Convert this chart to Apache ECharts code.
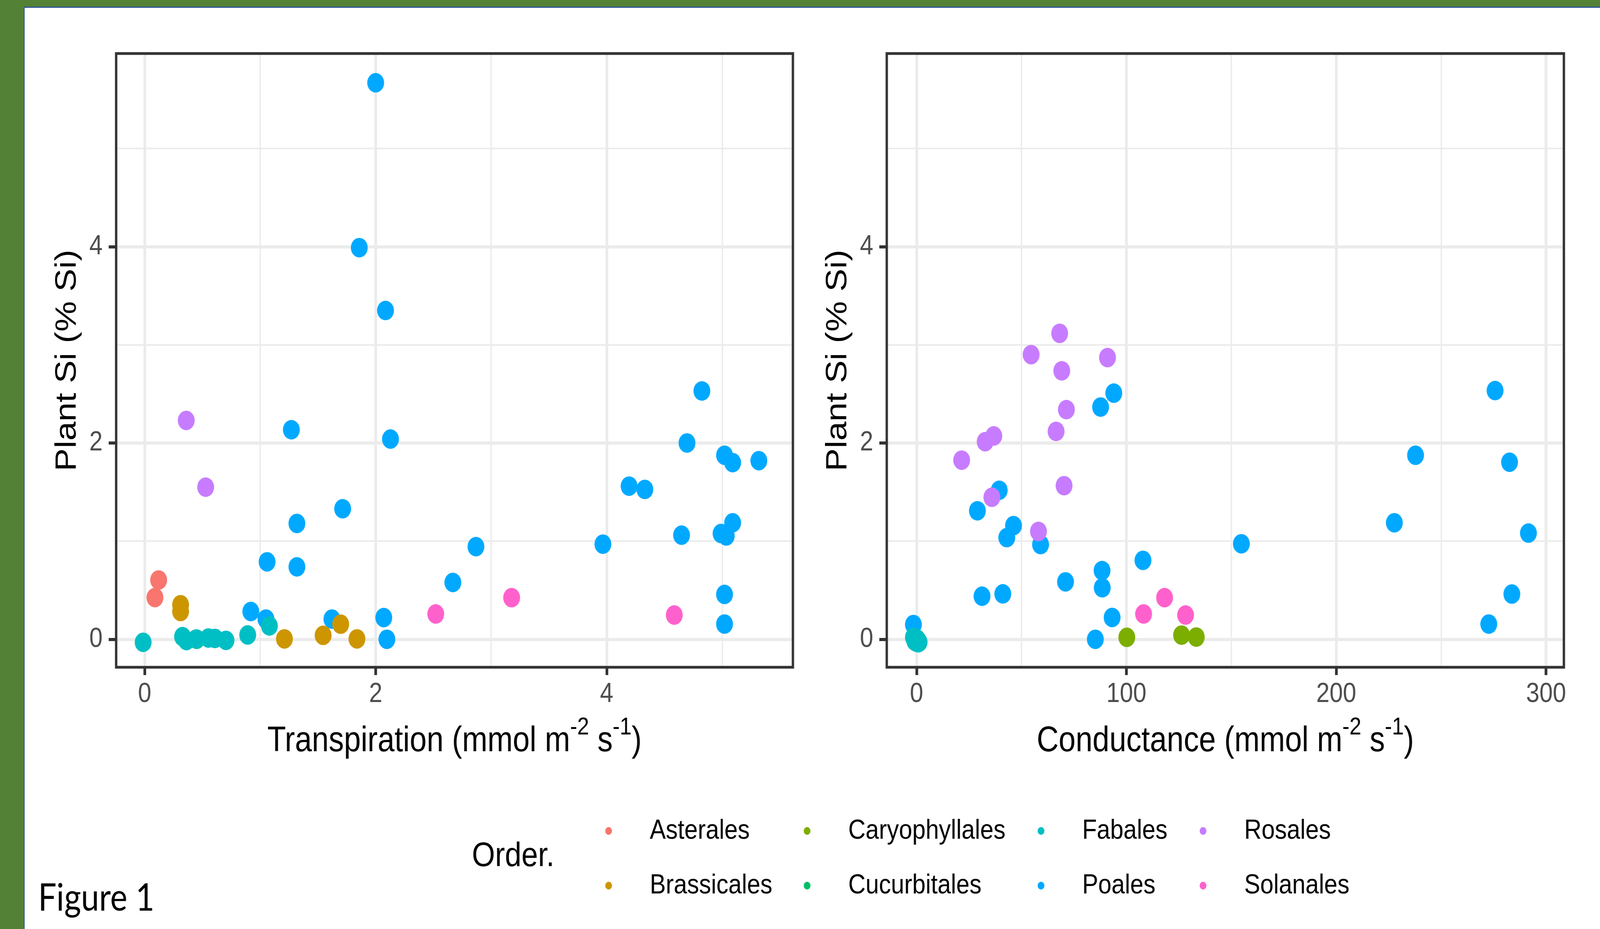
<!DOCTYPE html>
<html><head><meta charset="utf-8">
<script src="https://cdn.jsdelivr.net/npm/echarts@6/dist/echarts.min.js"></script>
<style>
html,body{margin:0;padding:0;background:#fff;overflow:hidden;width:100%;height:100%}
#wrap{position:fixed;left:0;top:0;width:100vw;height:100vh;overflow:hidden;background:#fff}
#c{position:absolute;left:0;top:0;width:4740px;height:2378px;transform-origin:0 0}
</style>
</head><body><div id="wrap"><div id="c"></div></div>
<script>
// ---------- data ----------
const orders = ['Asterales','Brassicales','Caryophyllales','Cucurbitales','Fabales','Poales','Rosales','Solanales'];
const orderColors = ['#F8766D','#CD9600','#7CAE00','#00BE67','#00BFC4','#00A9FF','#C77CFF','#FF61CC'];
const drawOrder = ['Poales','Asterales','Brassicales','Caryophyllales','Cucurbitales','Fabales','Rosales','Solanales'];

// Transpiration (mmol m-2 s-1) vs Plant Si (% Si)
const transPoales = [[2.00,5.67],[1.858,3.99],[2.085,3.35],[4.824,2.53],[1.27,2.135],[2.128,2.04],[4.695,2.00],[5.02,1.875],[5.09,1.80],[5.317,1.82],[4.194,1.56],[4.33,1.527],[1.714,1.33],[1.318,1.18],[5.09,1.187],[4.648,1.061],[4.99,1.078],[5.035,1.053],[3.967,0.969],[2.868,0.944],[1.06,0.789],[1.318,0.738],[2.668,0.579],[5.02,0.457],[0.919,0.283],[1.05,0.206],[1.621,0.206],[2.07,0.221],[5.02,0.155],[2.097,0.0]];
const transAsterales = [[0.121,0.604],[0.089,0.425]];
const transBrassicales = [[0.311,0.352],[0.311,0.283],[1.21,0.004],[1.545,0.04],[1.697,0.154],[1.838,0.004]];
const transCaryophyllales = [];
const transCucurbitales = [[0.45,0.0]];
const transFabales = [[-0.013,-0.031],[0.328,0.027],[0.362,-0.013],[0.447,0.003],[0.552,0.013],[0.608,0.009],[0.704,-0.011],[0.892,0.044],[1.08,0.136]];
const transRosales = [[0.36,2.23],[0.528,1.55]];
const transSolanales = [[2.52,0.258],[3.177,0.424],[4.585,0.247]];

// Conductance (mmol m-2 s-1) vs Plant Si (% Si)
const condPoales = [[94.0,2.508],[87.7,2.366],[275.7,2.534],[237.8,1.875],[282.6,1.804],[39.4,1.518],[29.0,1.309],[46.2,1.158],[227.7,1.187],[43.0,1.036],[59.1,0.965],[154.8,0.973],[291.6,1.082],[107.9,0.804],[88.4,0.70],[88.5,0.525],[71.0,0.585],[31.2,0.439],[41.1,0.463],[93.2,0.222],[283.7,0.461],[272.7,0.155],[-1.5,0.150],[85.2,0.0]];
const condAsterales = [];
const condBrassicales = [];
const condCaryophyllales = [[100.2,0.02],[126.3,0.0425],[133.3,0.0226]];
const condCucurbitales = [[0.3,0.0]];
const condFabales = [[-1.5,0.02],[-1.0,0.0],[-0.5,0.01],[0.0,-0.03],[0.5,-0.01],[0.8,-0.035],[1.0,-0.02],[1.2,-0.03],[-0.8,-0.02]];
const condRosales = [[68.2,3.117],[54.6,2.90],[91.0,2.87],[69.2,2.735],[71.4,2.34],[66.5,2.118],[36.8,2.072],[32.7,2.013],[21.5,1.825],[35.9,1.447],[70.3,1.565],[58.1,1.099]];
const condSolanales = [[108.2,0.258],[118.2,0.424],[128.2,0.247]];

const transData = {Poales:transPoales, Asterales:transAsterales, Brassicales:transBrassicales, Caryophyllales:transCaryophyllales, Cucurbitales:transCucurbitales, Fabales:transFabales, Rosales:transRosales, Solanales:transSolanales};
const condData = {Poales:condPoales, Asterales:condAsterales, Brassicales:condBrassicales, Caryophyllales:condCaryophyllales, Cucurbitales:condCucurbitales, Fabales:condFabales, Rosales:condRosales, Solanales:condSolanales};

// tick labels
const yTicks = [0, 2, 4];
const transTicks = [0, 2, 4];
const condTicks = [0, 100, 200, 300];

const yTitle = 'Plant Si (% Si)';
const transTitle = '{a|Transpiration (mmol m}{s|-2}{a| s}{s|-1}{a|)}';
const condTitle = '{a|Conductance (mmol m}{s|-2}{a| s}{s|-1}{a|)}';
const legendTitle = 'Order.';
const figLabel = 'Figure 1';
const legendColumns = [['Asterales','Brassicales'],['Caryophyllales','Cucurbitales'],['Fabales','Poales'],['Rosales','Solanales']];

// ---------- chart ----------
const el = document.getElementById('c');
const kx = window.innerWidth / 4740, ky = window.innerHeight / 2378;
el.style.transform = 'scale(' + kx + ',' + ky + ')';

const FF = '"Liberation Sans", Arial, sans-serif';
const chart = echarts.init(el, null, {renderer: 'canvas'});

const richTitle = {
  a: {fontSize: 90, lineHeight: 134, color: '#000', fontFamily: FF},
  s: {fontSize: 63, lineHeight: 63, verticalAlign: 'top', color: '#000', fontFamily: FF}
};

function xAxisCfg(gi, min, max, step, ticks, title) {
  return {
    type: 'value', gridIndex: gi, min: min, max: max, minInterval: step, maxInterval: step,
    axisLine: {show: false, onZero: false},
    axisTick: {show: true, length: 20, lineStyle: {color: '#333', width: 8}, customValues: ticks},
    axisLabel: {customValues: ticks, fontSize: 71, color: '#4d4d4d', margin: 34, fontFamily: FF},
    splitLine: {show: true, lineStyle: {color: '#ebebeb', width: 8}},
    minorTick: {show: false, splitNumber: 2},
    minorSplitLine: {show: true, lineStyle: {color: '#ebebeb', width: 4}},
    name: title, nameLocation: 'middle', nameGap: 123,
    nameTextStyle: {rich: richTitle, fontSize: 90, color: '#000', fontFamily: FF}
  };
}
function yAxisCfg(gi) {
  return {
    type: 'value', gridIndex: gi, min: -0.285, max: 5.968, minInterval: 2, maxInterval: 2,
    axisLine: {show: false, onZero: false},
    axisTick: {show: true, length: 22, lineStyle: {color: '#333', width: 8}, customValues: yTicks},
    axisLabel: {customValues: yTicks, fontSize: 71, color: '#4d4d4d', margin: 40, fontFamily: FF},
    splitLine: {show: true, lineStyle: {color: '#ebebeb', width: 8}},
    minorTick: {show: false, splitNumber: 2},
    minorSplitLine: {show: true, lineStyle: {color: '#ebebeb', width: 4}},
    name: yTitle, nameLocation: 'middle', nameGap: 100,
    nameTextStyle: {fontSize: 88, color: '#000', fontFamily: FF}
  };
}

const series = [];
[transData, condData].forEach(function (src, gi) {
  drawOrder.forEach(function (name) {
    series.push({
      type: 'scatter', name: name, xAxisIndex: gi, yAxisIndex: gi,
      data: src[name], symbol: 'circle', symbolSize: 50,
      itemStyle: {color: orderColors[orders.indexOf(name)], opacity: 1},
      emphasis: {disabled: true}, z: 2
    });
  });
});

const legendLefts = [1793, 2381, 3074, 3554];
const legends = legendColumns.map(function (col, i) {
  return {
    orient: 'vertical', left: legendLefts[i], top: 2087, padding: 0,
    itemWidth: 20, itemHeight: 20, itemGap: 60, icon: 'circle',
    data: col, selectedMode: false,
    textStyle: {fontSize: 71, color: '#000', fontFamily: FF, lineHeight: 80, padding: [0, 0, 0, 107]}
  };
});

chart.setOption({
  animation: false,
  backgroundColor: '#fff',
  grid: [
    {left: 344, top: 137, width: 2005, height: 1571, show: true, backgroundColor: 'transparent', borderColor: '#333', borderWidth: 7, z: 5, outerBoundsMode: 'none', containLabel: false},
    {left: 2627, top: 137, width: 2006, height: 1571, show: true, backgroundColor: 'transparent', borderColor: '#333', borderWidth: 7, z: 5, outerBoundsMode: 'none', containLabel: false}
  ],
  xAxis: [
    xAxisCfg(0, -0.247, 5.612, 2, transTicks, transTitle),
    xAxisCfg(1, -14.2, 308.5, 100, condTicks, condTitle)
  ],
  yAxis: [yAxisCfg(0), yAxisCfg(1)],
  legend: legends,
  series: series,
  graphic: [
    {type: 'rect', shape: {x: 0, y: 0, width: 4740, height: 17}, style: {fill: '#538135'}, silent: true},
    {type: 'rect', shape: {x: 71, y: 17, width: 4669, height: 3}, style: {fill: '#2F5597'}, silent: true},
    {type: 'rect', shape: {x: 0, y: 0, width: 71, height: 2378}, style: {fill: '#538135'}, silent: true},
    {type: 'rect', shape: {x: 71, y: 17, width: 2, height: 2361}, style: {fill: '#2F5597'}, silent: true},
    {type: 'text', x: 1398, y: 2193, style: {text: legendTitle, fontSize: 88, fill: '#000', fontFamily: FF, verticalAlign: 'middle', align: 'left'}, silent: true},
    {type: 'text', x: 113, y: 2300, style: {text: figLabel, fontSize: 96, fill: '#000', fontFamily: 'Lato, "Open Sans", sans-serif', verticalAlign: 'middle', align: 'left'}, silent: true}
  ]
});
</script></body></html>
